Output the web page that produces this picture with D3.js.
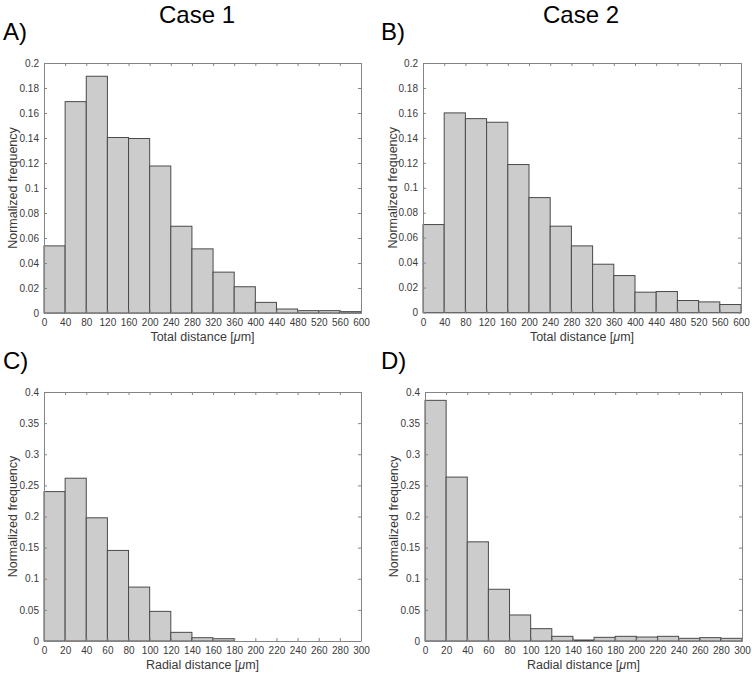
<!DOCTYPE html>
<html><head><meta charset="utf-8">
<script src="https://cdn.jsdelivr.net/npm/d3@7"></script>
<style>
body{margin:0;background:#fff;}
svg{display:block;font-family:"Liberation Sans",Arial,sans-serif;}
</style></head>
<body>
<svg id="chart" width="752" height="674"></svg>
<script>
// Data
const totalEdges = [0,40,80,120,160,200,240,280,320,360,400,440,480,520,560,600];
const radialEdges = [0,20,40,60,80,100,120,140,160,180,200,220,240,260,280,300];
const case1Total = [0.0537,0.1691,0.1894,0.1404,0.1396,0.1176,0.0694,0.0513,0.0327,0.0210,0.0085,0.0032,0.0019,0.0019,0.0011];
const case2Total = [0.0705,0.1600,0.1554,0.1525,0.1186,0.0921,0.0692,0.0534,0.0387,0.0296,0.0163,0.0168,0.0096,0.0085,0.0064];
const case1Radial = [0.2400,0.2615,0.1979,0.1455,0.0866,0.0476,0.0139,0.0053,0.0037,0,0,0,0,0,0];
const case2Radial = [0.3866,0.2633,0.1593,0.0831,0.0418,0.0198,0.0075,0.0016,0.0059,0.0075,0.0064,0.0075,0.0043,0.0054,0.0043];
const totalTicks = [0,40,80,120,160,200,240,280,320,360,400,440,480,520,560,600];
const radialTicks = [0,20,40,60,80,100,120,140,160,180,200,220,240,260,280,300];
const totalYTicks = [0,0.02,0.04,0.06,0.08,0.1,0.12,0.14,0.16,0.18,0.2];
const radialYTicks = [0,0.05,0.1,0.15,0.2,0.25,0.3,0.35,0.4];
const columnTitles = ["Case 1","Case 2"];
const panelLetters = ["A)","B)","C)","D)"];

const svg = d3.select("#chart");
const axisCol = "#858585", textCol = "#3a3a3a";

const panels = [
  {edges: totalEdges, vals: case1Total, xt: totalTicks, yt: totalYTicks, ymax: 0.2, box:[44,361,63,313], lab:"Total distance", letter: panelLetters[0], lx:3, ly:40, ylx:13},
  {edges: totalEdges, vals: case2Total, xt: totalTicks, yt: totalYTicks, ymax: 0.2, box:[423,741,63,312.5], lab:"Total distance", letter: panelLetters[1], lx:381, ly:40, ylx:393},
  {edges: radialEdges, vals: case1Radial, xt: radialTicks, yt: radialYTicks, ymax: 0.4, box:[44,361,392,641], lab:"Radial distance", letter: panelLetters[2], lx:3, ly:369, ylx:13},
  {edges: radialEdges, vals: case2Radial, xt: radialTicks, yt: radialYTicks, ymax: 0.4, box:[425,742,392,641], lab:"Radial distance", letter: panelLetters[3], lx:381, ly:369, ylx:394}
];

panels.forEach(p => {
  const [x0,x1,y0,y1] = p.box;
  const x = d3.scaleLinear().domain([p.edges[0], p.edges[p.edges.length-1]]).range([x0,x1]);
  const y = d3.scaleLinear().domain([0,p.ymax]).range([y1,y0]);
  const g = svg.append("g");
  const bins = p.vals.map((v,i)=>({a:p.edges[i], b:p.edges[i+1], v}));
  g.selectAll("rect").data(bins).join("rect")
    .attr("x", d=>x(d.a)).attr("width", d=>x(d.b)-x(d.a))
    .attr("y", d=>y(d.v)).attr("height", d=>y(0)-y(d.v))
    .attr("fill","#cccccc").attr("stroke","#4a4a4a").attr("stroke-width",1);

  const fmt = d => String(+d.toFixed(3));
  const styleAxis = sel => {
    sel.selectAll(".domain").attr("stroke",axisCol);
    sel.selectAll(".tick line").attr("stroke",axisCol);
    sel.selectAll("text").attr("fill",textCol).attr("font-size","10px").attr("font-family","Liberation Sans, Arial, sans-serif");
  };
  g.append("g").attr("transform",`translate(0,${y1})`)
    .call(d3.axisBottom(x).tickValues(p.xt).tickFormat(fmt).tickSizeInner(-3).tickSizeOuter(0).tickPadding(6))
    .call(styleAxis);
  g.append("g").attr("transform",`translate(0,${y0})`)
    .call(d3.axisTop(x).tickValues(p.xt).tickFormat("").tickSizeInner(-3).tickSizeOuter(0))
    .call(styleAxis);
  g.append("g").attr("transform",`translate(${x0},0)`)
    .call(d3.axisLeft(y).tickValues(p.yt).tickFormat(fmt).tickSizeInner(-3).tickSizeOuter(0).tickPadding(5))
    .call(styleAxis);
  g.append("g").attr("transform",`translate(${x1},0)`)
    .call(d3.axisRight(y).tickValues(p.yt).tickFormat("").tickSizeInner(-3).tickSizeOuter(0))
    .call(styleAxis);

  // x label
  const xl = g.append("text").attr("x",(x0+x1)/2).attr("y",y1+28)
    .attr("text-anchor","middle").attr("fill",textCol).attr("font-size","12.5px");
  xl.append("tspan").text(p.lab+" [");
  xl.append("tspan").attr("font-style","italic").text("\u03bc");
  xl.append("tspan").text("m]");
  // y label
  g.append("text").attr("transform",`translate(${p.ylx},${(y0+y1)/2}) rotate(-90)`)
    .attr("text-anchor","middle").attr("dy","0.35em").attr("fill",textCol).attr("font-size","12.5px")
    .text("Normalized frequency");
  // letter
  svg.append("text").attr("x",p.lx).attr("y",p.ly).attr("font-size","24px").attr("fill","#000").text(p.letter);
});

svg.append("text").attr("x",197).attr("y",23).attr("text-anchor","middle").attr("font-size","24px").attr("fill","#000").text(columnTitles[0]);
svg.append("text").attr("x",581).attr("y",23).attr("text-anchor","middle").attr("font-size","24px").attr("fill","#000").text(columnTitles[1]);
</script>
</body></html>
